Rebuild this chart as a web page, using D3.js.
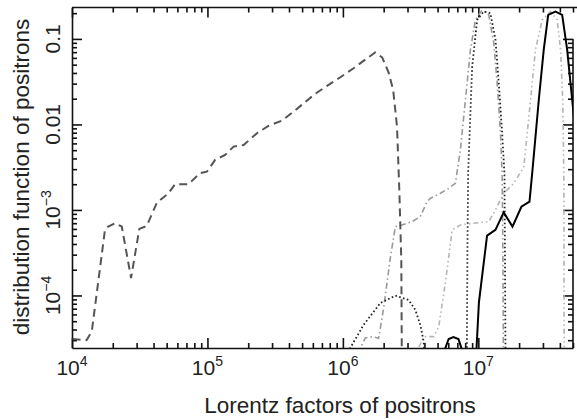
<!DOCTYPE html>
<html>
<head>
<meta charset="utf-8">
<title>distribution function of positrons</title>
<script src="https://d3js.org/d3.v7.min.js"></script>
<style>
  body { margin: 0; background: #fff; }
  svg { display: block; }
  text { font-family: "Liberation Sans", Arial, sans-serif; fill: #222; }
  .axis path, .axis line { stroke: #111; stroke-width: 1.6; }
  .curve { fill: none; }
</style>
</head>
<body>
<script>
// values (Lorentz factor, distribution function)
var dashedGamma = [1.01e4, 1.28e4, 1.40e4, 1.75e4, 1.85e4, 2.08e4, 2.33e4, 2.73e4, 3.14e4, 3.56e4,
  4.23e4, 5.15e4, 5.77e4, 7.24e4, 8.84e4, 9.9e4, 1.14e5, 1.35e5, 1.56e5, 1.85e5, 2.32e5, 2.82e5,
  3.55e5, 4.32e5, 6.25e5, 7.63e5, 9.58e5, 1.20e6, 1.42e6, 1.73e6, 1.95e6, 2.18e6, 2.35e6, 2.51e6,
  2.61e6, 2.70e6, 2.73e6];
var dashedF = [3.1e-5, 3.0e-5, 3.8e-5, 5.8e-4, 6.4e-4, 7.0e-4, 6.4e-4, 1.6e-4, 6.0e-4, 6.5e-4,
  1.21e-3, 1.57e-3, 2.0e-3, 2.0e-3, 2.7e-3, 2.8e-3, 3.85e-3, 4.4e-3, 5.5e-3, 5.75e-3, 7.9e-3, 9.6e-3,
  1.11e-2, 1.41e-2, 2.28e-2, 2.82e-2, 3.56e-2, 4.54e-2, 5.53e-2, 6.95e-2, 6.08e-2, 4.0e-2, 2.54e-2, 9.4e-3,
  1.71e-3, 2.6e-4, 1.0e-5];

var dottedGamma = [1.096e6, 1.134e6, 1.42e6, 1.89e6, 2.44e6, 3.06e6, 3.43e6, 3.73e6, 3.95e6, 4.1e6,
  8.17e6, 8.23e6, 8.31e6, 8.41e6, 9.0e6, 9.8e6, 1.096e7, 1.228e7, 1.338e7, 1.415e7, 1.499e7, 1.56e7,
  1.573e7, 1.586e7, 1.6e7];
var dottedF = [1e-5, 2.43e-5, 4.52e-5, 8.16e-5, 9.95e-5, 8.86e-5, 6.76e-5, 4.52e-5, 2.88e-5, 1e-5,
  1e-5, 2.43e-5, 3.4e-4, 2.71e-3, 0.047, 0.167, 0.209, 0.2, 0.0973, 0.0306, 7.96e-3, 2.57e-3,
  2.6e-4, 2.43e-5, 1e-5];

var dashDotGamma = [1.3e6, 1.345e6, 1.464e6, 1.641e6, 1.836e6, 2.0e6, 2.24e6, 2.44e6, 2.73e6, 3.24e6,
  3.73e6, 4.18e6, 4.43e6, 5.25e6, 6.04e6, 6.77e6, 7.37e6, 8.03e6, 8.74e6, 9.52e6, 1.067e7, 1.194e7,
  1.3e7, 1.377e7, 1.457e7, 1.499e7, 1.52e7, 1.53e7, 1.54e7];
var dashDotF = [1e-5, 2.43e-5, 3.19e-5, 3.3e-5, 3.16e-5, 7.14e-5, 2.75e-4, 6.38e-4, 6.68e-4, 7.3e-4,
  8.35e-4, 1.25e-3, 1.37e-3, 1.57e-3, 1.79e-3, 2.05e-3, 5.03e-3, 0.0193, 0.0743, 0.167, 0.218, 0.191,
  0.0898, 0.0306, 7.96e-3, 2.57e-3, 2.6e-4, 2.43e-5, 1e-5];

var lightGamma = [3.5e6, 3.63e6, 3.95e6, 4.68e6, 5.10e6, 5.71e6, 6.41e6, 7.37e6, 9.25e6, 1.194e7,
  1.338e7, 1.54e7, 1.827e7, 2.166e7, 2.43e7, 2.64e7, 2.96e7, 3.41e7, 3.82e7, 4.05e7, 4.2e7, 4.28e7,
  4.3e7, 4.33e7];
var lightF = [1e-5, 2.43e-5, 3.3e-5, 3.3e-5, 4.32e-5, 1.4e-4, 5.84e-4, 6.68e-4, 6.99e-4, 7.3e-4,
  1.0e-3, 1.57e-3, 2.05e-3, 3.18e-3, 0.0193, 0.0743, 0.167, 0.209, 0.167, 0.0743, 0.0193, 2.57e-3,
  2.43e-5, 1e-5];

var solidGamma = [5.5e6, 5.71e6, 6.04e6, 6.55e6, 7.13e6, 7.5e6, 7.8e6, 9.36e6, 9.7e6, 1.01e7,
  1.16e7, 1.338e7, 1.54e7, 1.787e7, 2.08e7, 2.387e7, 2.5e7, 2.795e7, 3.04e7, 3.28e7, 3.71e7, 4.16e7,
  4.53e7, 4.79e7, 5.22e7];
var solidF = [1e-5, 2.43e-5, 3.1e-5, 3.27e-5, 3.1e-5, 2.43e-5, 1e-5, 1e-5, 2.43e-5, 8.3e-5,
  5.0e-4, 5.84e-4, 9.35e-4, 6.38e-4, 1.09e-3, 1.25e-3, 2.71e-3, 0.0193, 0.0743, 0.191, 0.209, 0.191,
  0.0743, 0.0306, 8e-3];

var xDomain = [1e4, 5e7];
var yDomain = [2.43e-5, 0.233];
var xLabelExp = [4, 5, 6, 7];
var yLabels = [[0.1, "0.1", null], [0.01, "0.01", null], [1e-3, "10", "\u22123"], [1e-4, "10", "\u22124"]];

var W = 577, H = 419;
var svg = d3.select("body").append("svg").attr("width", W).attr("height", H);

var x = d3.scaleLog().domain(xDomain).range([72, 573]);
var y = d3.scaleLog().domain(yDomain).range([348, 7.5]);

function logTicks(lo, hi) {
  var out = [];
  for (var e = Math.floor(Math.log10(lo)); e <= Math.ceil(Math.log10(hi)); e++) {
    for (var m = 1; m < 10; m++) {
      var v = m * Math.pow(10, e);
      if (v >= lo * 0.999 && v <= hi * 1.001) out.push(v);
    }
  }
  return out;
}
function isMajor(v) {
  var l = Math.log10(v);
  return Math.abs(l - Math.round(l)) < 1e-6;
}

var xt = logTicks(xDomain[0], xDomain[1]);
var yt = logTicks(yDomain[0], yDomain[1]);

// bottom axis, ticks inward
svg.append("g").attr("class", "axis").attr("transform", "translate(0,348)")
  .call(d3.axisBottom(x).tickValues(xt).tickFormat("").tickSizeOuter(0))
  .selectAll(".tick line").attr("y2", function(d) { return isMajor(d) ? -10 : -5; });

// top axis
var topAxis = svg.append("g").attr("class", "axis").attr("transform", "translate(0,7.5)")
  .call(d3.axisTop(x).tickValues(xt).tickFormat("").tickSizeOuter(0));
topAxis.selectAll(".tick line").attr("y2", function(d) { return isMajor(d) ? 10 : 5; });
topAxis.select(".domain").attr("d", "M72,0H577");

// left axis
svg.append("g").attr("class", "axis").attr("transform", "translate(72,0)")
  .call(d3.axisLeft(y).tickValues(yt).tickFormat("").tickSizeOuter(0))
  .selectAll(".tick line").attr("x2", function(d) { return isMajor(d) ? 10 : 5; });

// right axis (only drawn up to 0.1 in the original)
var rightAxis = svg.append("g").attr("class", "axis").attr("transform", "translate(573,0)")
  .call(d3.axisRight(y).tickValues(yt.filter(function(d) { return d <= 0.1001; })).tickFormat("").tickSizeOuter(0));
rightAxis.selectAll(".tick line").attr("x2", function(d) { return isMajor(d) ? -10 : -5; });
rightAxis.select(".domain").attr("d", "M0," + y(0.1) + "V348");

// x tick labels
xLabelExp.forEach(function(e) {
  var t = svg.append("text").attr("x", x(Math.pow(10, e))).attr("y", 375)
    .attr("text-anchor", "middle").style("font-size", "21px");
  t.append("tspan").text("10");
  t.append("tspan").attr("dy", -9).style("font-size", "14px").text(e);
});

// y tick labels, rotated
yLabels.forEach(function(l) {
  var t = svg.append("text")
    .attr("transform", "translate(60," + y(l[0]) + ") rotate(-90)")
    .attr("text-anchor", "middle").style("font-size", "21px");
  t.append("tspan").text(l[1]);
  if (l[2]) t.append("tspan").attr("dy", -9).style("font-size", "14px").text(l[2]);
});

// axis titles
svg.append("text").attr("x", 340).attr("y", 413).attr("text-anchor", "middle")
  .style("font-size", "22.5px").text("Lorentz factors of positrons");
svg.append("text").attr("transform", "translate(29,177) rotate(-90)").attr("text-anchor", "middle")
  .style("font-size", "22.5px").text("distribution function of positrons");

// curves
svg.append("clipPath").attr("id", "clip").append("rect")
  .attr("x", 72).attr("y", 7.5).attr("width", 501).attr("height", 340.5);

var line = d3.line().x(function(d) { return x(d[0]); }).y(function(d) { return y(d[1]); });
var plot = svg.append("g").attr("clip-path", "url(#clip)");

var series = [
  { g: lightGamma, f: lightF, color: "#b4b4b4", width: 1.6, dash: "5,3,1.5,3,1.5,3" },
  { g: dashDotGamma, f: dashDotF, color: "#999", width: 1.6, dash: "6,3,1.5,3" },
  { g: dottedGamma, f: dottedF, color: "#222", width: 1.8, dash: "1.6,2.4" },
  { g: dashedGamma, f: dashedF, color: "#555", width: 2, dash: "8,5" },
  { g: solidGamma, f: solidF, color: "#000", width: 2, dash: null }
];
series.forEach(function(s) {
  plot.append("path").attr("class", "curve")
    .datum(d3.zip(s.g, s.f))
    .attr("d", line)
    .attr("stroke", s.color).attr("stroke-width", s.width)
    .attr("stroke-dasharray", s.dash);
});
</script>
</body>
</html>
